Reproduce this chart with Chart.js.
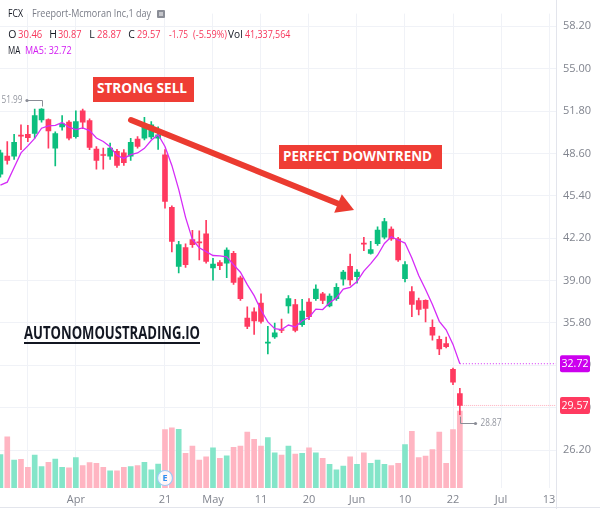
<!DOCTYPE html>
<html>
<head>
<meta charset="utf-8">
<script src="https://cdn.jsdelivr.net/npm/chart.js@4.4.1/dist/chart.umd.min.js"></script>
<style>
html,body{margin:0;padding:0;background:#fff;}
#wrap{position:relative;width:600px;height:509px;overflow:hidden;background:#fff;font-family:'Open Sans','Noto Sans',sans-serif;}
#c{position:absolute;left:0;top:0;}
.t{position:absolute;white-space:nowrap;transform-origin:0 0;}
.h{font-size:10.5px;line-height:10.5px;}
.dk{color:#131722}
.gr{color:#787b86}
.rd{color:#f7385c}
.mg{color:#d21cf2}
.box{position:absolute;background:#ef3d35;}
.bt{position:absolute;white-space:nowrap;color:#fff;font-weight:700;font-size:14px;line-height:14px;transform-origin:0 0;}
.ln{position:absolute;background:#e3e5ec;}
</style>
</head>
<body>
<div id="wrap">
<canvas id="c" width="600" height="509" style="width:600px;height:509px"></canvas>

<div class="ln" style="left:556px;top:0;width:1px;height:509px"></div>
<div class="ln" style="left:0;top:507px;width:600px;height:1px"></div>

<div class="t h dk" data-w="15" style="left:8.3px;top:8.2px">FCX</div>
<div class="t h gr" data-w="119" style="left:31.7px;top:8.2px">Freeport-Mcmoran Inc,1 day</div>
<svg style="position:absolute;left:157px;top:10px" width="8" height="8" viewBox="0 0 8 8"><rect x="0" y="0" width="8" height="8" rx="1" fill="#8a8d96"/><rect x="2" y="2.5" width="4" height="1" fill="#fff"/><rect x="2" y="4.5" width="4" height="1" fill="#fff"/></svg>

<div class="t h dk" style="left:8.3px;top:28.9px">O</div>
<div class="t h rd" data-w="24.3" style="left:18.3px;top:28.9px">30.46</div>
<div class="t h dk" style="left:49.3px;top:28.9px">H</div>
<div class="t h rd" data-w="23.5" style="left:58.3px;top:28.9px">30.87</div>
<div class="t h dk" style="left:89.3px;top:28.9px">L</div>
<div class="t h rd" data-w="24.3" style="left:97.3px;top:28.9px">28.87</div>
<div class="t h dk" style="left:128.3px;top:28.9px">C</div>
<div class="t h rd" data-w="23.5" style="left:137.3px;top:28.9px">29.57</div>
<div class="t h rd" data-w="19" style="left:169.3px;top:28.9px">-1.75</div>
<div class="t h rd" data-w="34" style="left:192.7px;top:28.9px">(-5.59%)</div>
<div class="t h dk" data-w="14.7" style="left:228px;top:28.9px">Vol</div>
<div class="t h rd" data-w="45.4" style="left:245.3px;top:28.9px">41,337,564</div>

<div class="t h dk" data-w="12.3" style="left:8.3px;top:44.9px">MA</div>
<div class="t h mg" data-w="46.7" style="left:25px;top:44.9px">MA5: 32.72</div>

<div class="box" style="left:93px;top:77px;width:101px;height:25px"></div>
<div class="bt" data-w="90" style="left:96.7px;top:80.9px">STRONG SELL</div>

<div class="box" style="left:279px;top:145px;width:163px;height:24px"></div>
<div class="bt" data-w="149" style="left:283.3px;top:148.6px">PERFECT DOWNTREND</div>

<svg style="position:absolute;left:0;top:0;pointer-events:none" width="600" height="509">
  <line x1="131" y1="120" x2="339" y2="204" stroke="#eb3b30" stroke-width="6" stroke-linecap="round"/>
  <polygon points="354,210 334.2,212.8 341.8,194.2" fill="#eb3b30"/>
</svg>

<div class="t" data-w="176" style="left:24px;top:323.6px;font-size:17.5px;line-height:17.5px;font-weight:700;color:#131722">AUTONOMOUSTRADING.IO</div>
<div style="position:absolute;left:24px;top:341.5px;width:176px;height:2px;background:#131722"></div>
</div>

<script>
// ---- data (Freeport-McMoRan daily, index 1 = first trading day of April) ----
const firstIndex = -10;
const open = [47.04,48.39,48.39,49.95,50.03,50.10,51.13,51.15,49.00,50.60,
  50.96,49.86,51.81,51.08,48.93,48.48,48.39,48.75,48.65,48.39,
  49.69,49.74,49.85,49.75,48.50,44.53,40.07,41.49,42.10,41.88,
  42.52,39.95,40.36,40.31,41.05,39.21,36.16,36.64,37.30,34.28,
  34.74,35.27,37.08,37.19,35.67,37.38,37.63,38.00,37.08,37.63,
  39.10,40.07,39.29,41.80,41.05,41.78,42.27,42.88,42.15,39.14,
  38.16,37.48,37.50,35.47,34.57,34.25,32.29,30.46];
const high = [48.85,49.49,50.03,50.76,50.71,51.94,51.99,51.20,50.22,51.45,
  51.08,51.81,51.94,51.20,49.12,49.00,49.37,48.90,48.88,49.74,
  49.86,51.33,51.00,50.60,48.88,44.64,41.96,41.78,42.80,42.76,
  43.54,40.68,40.51,41.47,41.20,39.34,37.01,36.94,37.99,35.54,
  35.79,36.10,37.87,37.58,37.58,37.63,38.68,38.11,38.00,38.77,
  39.78,41.00,39.83,42.27,41.96,43.06,43.69,43.06,42.27,40.44,
  38.55,37.67,37.55,36.04,34.81,34.74,32.40,30.87];
const low = [46.80,47.78,48.15,48.88,49.49,49.74,50.96,49.00,47.65,50.35,
  49.61,49.74,50.47,48.88,47.41,47.41,48.15,47.55,47.70,48.07,
  49.00,49.61,49.70,48.90,44.47,41.17,39.58,40.00,41.50,40.56,
  40.31,39.02,39.83,39.21,38.70,37.50,35.37,34.93,35.79,33.47,
  34.64,35.06,36.53,35.13,35.54,36.04,37.50,37.26,37.00,37.50,
  38.65,38.65,38.80,41.25,41.00,41.66,42.15,42.03,40.44,38.90,
  36.28,36.40,35.87,34.49,33.41,33.91,31.14,28.87];
const close = [48.64,48.07,49.44,49.90,49.78,51.45,51.94,50.30,50.10,50.84,
  49.74,51.00,50.96,49.05,48.07,48.44,49.00,47.70,47.90,49.44,
  49.12,50.76,50.75,50.00,44.97,41.96,41.71,40.20,41.70,41.85,
  40.44,40.24,40.12,41.30,38.85,37.63,35.54,35.96,35.91,34.36,
  35.06,35.23,37.63,35.23,36.70,36.28,38.36,37.50,37.82,38.48,
  39.63,39.04,39.63,41.75,41.34,42.81,43.45,42.15,40.56,40.20,
  37.19,36.82,36.89,34.88,33.83,34.00,31.32,29.57];
// volume in millions of shares
const volume = [18.0,27.5,15.0,15.4,11.1,17.7,11.5,13.8,15.6,11.1,
  10.9,16.3,12.0,13.6,13.2,11.1,9.2,9.2,11.1,11.5,
  12.0,13.8,9.7,12.9,31.4,32.4,31.6,18.6,22.5,15.0,
  16.8,21.6,15.9,17.3,21.8,22.5,30.1,26.2,22.5,27.1,
  18.9,17.7,22.5,18.2,18.6,21.6,18.9,15.9,12.7,9.7,
  11.8,16.8,12.7,18.9,13.2,15.0,12.7,12.0,13.2,23.4,
  30.5,16.4,17.2,20.7,30.1,13.2,31.4,41.34];
// 5-period moving average as plotted
const ma5 = [46.20,46.43,47.53,48.64,49.17,49.73,50.50,50.67,50.71,50.93,
  50.58,50.40,50.53,50.32,49.76,49.50,49.10,48.45,48.22,48.50,
  48.63,48.98,49.59,50.01,49.12,47.69,45.88,43.77,42.11,41.48,
  41.18,40.89,40.87,40.79,40.19,39.63,38.69,37.86,36.78,35.88,
  35.37,35.30,35.64,35.50,35.97,36.21,36.84,36.81,37.33,37.69,
  38.36,38.49,38.92,39.71,40.28,40.91,41.80,42.30,42.06,41.83,
  40.71,39.38,38.33,37.20,35.92,35.28,34.18,32.72];
const xTickPos = [-6, 1, 14, 21, 28, 35, 42, 49, 56, 63, 70];
const xTickLabels = ['', 'Apr', '21', 'May', '11', '20', 'Jun', '10', '22', 'Jul', '13'];
const priceTicks = [26.2, 29.4, 32.6, 35.8, 39.0, 42.2, 45.4, 48.6, 51.8, 55.0, 58.2];
const earningsIndex = 14;

// ---- view ranges ----
const xMin = -10.06, xMax = 71.02;
const yMin = 23.338, yMax = 59.154;
const volMax = 255;

const UP = '#0bbf7e', DOWN = '#ff3a60', MA_COLOR = '#d52cf7', MA_BADGE = '#cc00ee';
const GRID = '#f0f2f7', TICK = '#80848e';

const N = close.length;
const xs = close.map((_, i) => firstIndex + i);
const isUp = close.map((c, i) => c >= open[i]);
const candleColors = isUp.map(u => u ? UP : DOWN);
const volColors = isUp.map(u => u ? '#84e5c9' : '#ffb5c2');

Chart.defaults.font.family = "'Open Sans','Noto Sans',sans-serif";

const overlay = {
  id: 'overlay',
  afterDraw(chart) {
    const {ctx, chartArea: ca, scales: {x, y}} = chart;
    ctx.save();
    // earnings marker
    const ex = x.getPixelForValue(earningsIndex), ey = ca.bottom - 10;
    ctx.beginPath(); ctx.arc(ex, ey, 7.5, 0, Math.PI * 2);
    ctx.fillStyle = 'rgba(255,255,255,0.85)'; ctx.fill();
    ctx.strokeStyle = '#9ccaf5'; ctx.lineWidth = 1.2; ctx.stroke();
    ctx.fillStyle = '#2f8ff0'; ctx.font = "bold 9px 'Open Sans'";
    ctx.textAlign = 'center'; ctx.textBaseline = 'middle';
    ctx.fillText('E', ex, ey + 0.5);

    // highest high / lowest low markers
    let hi = -Infinity, hiI = 0, lo = Infinity, loI = 0;
    high.forEach((v, i) => { if (v > hi) { hi = v; hiI = i; } });
    low.forEach((v, i) => { if (v < lo) { lo = v; loI = i; } });
    ctx.strokeStyle = '#8a8d96'; ctx.fillStyle = '#8a8d96'; ctx.lineWidth = 1;
    ctx.font = "10.5px 'Open Sans'";
    const hx = Math.round(x.getPixelForValue(xs[hiI])) + 0.5, hy = y.getPixelForValue(hi);
    const hly = Math.round(hy - 8) + 0.5;
    ctx.beginPath(); ctx.moveTo(hx, hy - 2); ctx.lineTo(hx, hly); ctx.lineTo(hx - 15.5, hly); ctx.stroke();
    ctx.beginPath(); ctx.arc(hx - 15.5, hly, 1.6, 0, Math.PI * 2); ctx.fill();
    ctx.fillStyle = '#9598a1'; ctx.textAlign = 'right'; ctx.textBaseline = 'middle';
    ctx.fillText(hi.toFixed(2), hx - 20, hly, 21);

    const lx = Math.round(x.getPixelForValue(xs[loI])) + 0.5, ly = y.getPixelForValue(lo);
    const lly = Math.round(ly + 8) + 0.5;
    ctx.fillStyle = '#8a8d96';
    ctx.beginPath(); ctx.moveTo(lx, ly + 2); ctx.lineTo(lx, lly); ctx.lineTo(lx + 15, lly); ctx.stroke();
    ctx.beginPath(); ctx.arc(lx + 15, lly, 1.6, 0, Math.PI * 2); ctx.fill();
    ctx.fillStyle = '#9598a1'; ctx.textAlign = 'left';
    ctx.fillText(lo.toFixed(2), lx + 20, lly, 21);

    // price badges on the axis
    function badge(v, col) {
      const cy = y.getPixelForValue(v);
      const bx = ca.right + 4, bw = 30, bh = 17;
      ctx.fillStyle = col;
      ctx.beginPath();
      if (ctx.roundRect) ctx.roundRect(bx, cy - bh / 2, bw, bh, 2); else ctx.rect(bx, cy - bh / 2, bw, bh);
      ctx.fill();
      ctx.fillStyle = '#fff'; ctx.font = "11px 'Open Sans'";
      ctx.textAlign = 'center'; ctx.textBaseline = 'middle';
      ctx.fillText(v.toFixed(2), bx + bw / 2, cy + 0.5, 27);
    }
    badge(ma5[N - 1], MA_BADGE);
    badge(close[N - 1], DOWN);
    ctx.restore();
  }
};

new Chart(document.getElementById('c'), {
  type: 'bar',
  data: {
    datasets: [
      {type: 'line', label: 'MA5', data: xs.map((x, i) => ({x, y: ma5[i]})), borderColor: MA_COLOR,
       borderWidth: 1.3, pointRadius: 0, yAxisID: 'y', order: 1},
      {type: 'line', label: 'MA last', data: [{x: xs[N - 1], y: ma5[N - 1]}, {x: xMax, y: ma5[N - 1]}],
       borderColor: MA_COLOR, borderWidth: 1, borderDash: [1, 2], pointRadius: 0, yAxisID: 'y', order: 1},
      {type: 'line', label: 'Close last', data: [{x: xs[N - 1], y: close[N - 1]}, {x: xMax, y: close[N - 1]}],
       borderColor: 'rgba(255,58,96,0.4)', borderWidth: 1, borderDash: [1, 1], pointRadius: 0, yAxisID: 'y', order: 1},
      {label: 'Body', data: xs.map((x, i) => ({x, y: [open[i], close[i]]})), backgroundColor: candleColors,
       barThickness: 5, minBarLength: 1, grouped: false, borderWidth: 0, yAxisID: 'y', order: 2},
      {label: 'Wick', data: xs.map((x, i) => ({x, y: [low[i], high[i]]})), backgroundColor: candleColors,
       barThickness: 1, grouped: false, borderWidth: 0, yAxisID: 'y', order: 3},
      {label: 'Volume', data: xs.map((x, i) => ({x, y: volume[i]})), backgroundColor: volColors,
       barThickness: 5, grouped: false, borderWidth: 0, yAxisID: 'yv', order: 4}
    ]
  },
  options: {
    responsive: false, animation: false, events: [],
    layout: {padding: 0},
    plugins: {legend: {display: false}, tooltip: {enabled: false}},
    scales: {
      x: {
        type: 'linear', min: xMin, max: xMax, offset: false,
        grid: {color: GRID, drawTicks: false, offset: false}, border: {display: false},
        afterBuildTicks: s => { s.ticks = xTickPos.map(v => ({value: v})); },
        ticks: {autoSkip: false, maxRotation: 0, padding: 5, color: TICK, font: {size: 11},
          callback: v => { const i = xTickPos.indexOf(v); return i >= 0 ? xTickLabels[i] : ''; }},
        afterFit: s => { s.height = 21; }
      },
      y: {
        type: 'linear', position: 'right', min: yMin, max: yMax,
        grid: {color: GRID, drawTicks: false}, border: {display: false},
        afterBuildTicks: s => { s.ticks = priceTicks.map(v => ({value: v})); },
        ticks: {padding: 7, color: TICK, font: {size: 11}, callback: v => Number(v).toFixed(2)},
        afterFit: s => { s.width = 44; }
      },
      yv: {type: 'linear', display: false, min: 0, max: volMax}
    }
  },
  plugins: [overlay]
});

document.querySelectorAll('[data-w]').forEach(el => {
  const w = parseFloat(el.getAttribute('data-w'));
  const r = el.getBoundingClientRect().width;
  if (r > 0) el.style.transform = 'scaleX(' + (w / r) + ')';
});
</script>
</body>
</html>
